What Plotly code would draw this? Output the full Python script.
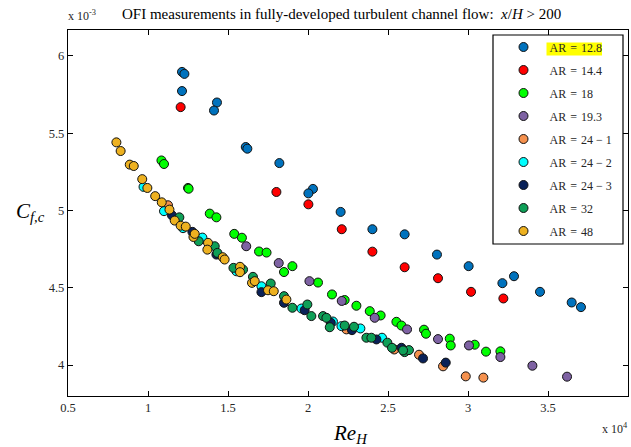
import plotly.graph_objects as go

# Re_H in units of 1e4, C_f,c in units of 1e-3
ar128_x = [1.2125, 1.2275, 1.2125, 1.431, 1.4125, 1.611, 1.621, 1.821, 2.031, 2.0025, 2.204, 2.4025,
           2.604, 2.806, 3.004, 3.215, 3.2875, 3.45, 3.648, 3.706]
ar128_y = [5.897, 5.884, 5.773, 5.699, 5.647, 5.411, 5.400, 5.307, 5.140, 5.111, 4.991, 4.879,
           4.846, 4.715, 4.640, 4.530, 4.575, 4.474, 4.405, 4.375]

ar144_x = [1.204, 1.8025, 2.0025, 2.211, 2.4025, 2.604, 2.8125, 3.019, 3.221]
ar144_y = [5.669, 5.120, 5.040, 4.879, 4.734, 4.633, 4.562, 4.474, 4.431]

ar18_x = [1.084, 1.100, 1.250, 1.254, 1.386, 1.4275, 1.539, 1.587, 1.694, 1.741, 1.850, 1.9025,
          2.0625, 2.150, 2.229, 2.3025, 2.386, 2.454, 2.5525, 2.584, 2.725, 2.7375, 2.886, 2.892,
          3.042, 3.1125, 3.2025]
ar18_y = [5.324, 5.301, 5.146, 5.141, 4.980, 4.956, 4.849, 4.824, 4.735, 4.728, 4.602, 4.640,
          4.534, 4.457, 4.421, 4.384, 4.349, 4.321, 4.280, 4.256, 4.229, 4.203, 4.171, 4.127,
          4.132, 4.087, 4.089]

ar193_x = [1.614, 1.817, 2.009, 2.211, 2.417, 2.619, 2.8125, 3.006, 3.2025, 3.4025, 3.619]
ar193_y = [4.769, 4.660, 4.543, 4.415, 4.306, 4.231, 4.168, 4.127, 4.052, 3.996, 3.925]

ar24a_x = [1.125, 2.240, 2.539, 2.694, 2.844, 2.986, 3.096]
ar24a_y = [5.034, 4.231, 4.101, 4.067, 3.992, 3.927, 3.919]

ar24b_x = [0.972, 1.100, 1.219, 1.340, 1.5525, 1.709, 1.959, 2.156, 2.209, 2.3275, 2.4625]
ar24b_y = [5.153, 4.996, 4.886, 4.825, 4.607, 4.510, 4.366, 4.282, 4.252, 4.237, 4.177]

ar24c_x = [1.150, 1.2775, 1.4275, 1.709, 1.850, 1.979, 2.142, 2.275, 2.4275, 2.584, 2.719, 2.861]
ar24c_y = [4.969, 4.862, 4.715, 4.472, 4.403, 4.355, 4.274, 4.226, 4.166, 4.112, 4.043, 4.016]

ar32_x = [1.196, 1.317, 1.417, 1.434, 1.534, 1.594, 1.656, 1.767, 1.850, 1.9025, 1.996, 2.021,
          2.094, 2.115, 2.136, 2.229, 2.2875, 2.365, 2.396, 2.496, 2.525, 2.604, 2.631, 2.594]
ar32_y = [4.956, 4.801, 4.769, 4.726, 4.629, 4.618, 4.571, 4.528, 4.446, 4.371, 4.392, 4.317,
          4.317, 4.306, 4.245, 4.256, 4.248, 4.177, 4.177, 4.145, 4.112, 4.084, 4.097, 4.095]

ar48_x = [0.8025, 0.829, 0.886, 0.911, 0.964, 0.996, 1.045, 1.086, 1.134, 1.167, 1.204, 1.236,
          1.284, 1.292, 1.375, 1.371, 1.467, 1.479, 1.575, 1.575, 1.650, 1.667, 1.750, 1.786, 1.865]
ar48_y = [5.441, 5.385, 5.297, 5.288, 5.203, 5.146, 5.093, 5.053, 5.006, 4.935, 4.902, 4.896,
          4.829, 4.849, 4.791, 4.747, 4.698, 4.683, 4.636, 4.601, 4.532, 4.543, 4.484, 4.478, 4.424]

EQ = "\u2004=\u2004"
series_names = ["AR" + EQ + "12.8", "AR" + EQ + "14.4", "AR" + EQ + "18", "AR" + EQ + "19.3",
                "AR" + EQ + "24 \u2212 1", "AR" + EQ + "24 \u2212 2", "AR" + EQ + "24 \u2212 3",
                "AR" + EQ + "32", "AR" + EQ + "48"]
series_x = [ar128_x, ar144_x, ar18_x, ar193_x, ar24a_x, ar24b_x, ar24c_x, ar32_x, ar48_x]
series_y = [ar128_y, ar144_y, ar18_y, ar193_y, ar24a_y, ar24b_y, ar24c_y, ar32_y, ar48_y]
colors = ["#0072BD", "#FF0000", "#00FF00", "#7E62A3", "#F5914E", "#00FFFF", "#0A2158",
          "#0E9F57", "#EDB120"]

x_ticks = [0.5, 1, 1.5, 2, 2.5, 3, 3.5, 4]
x_ticktext = ["0.5", "1", "1.5", "2", "2.5", "3", "3.5", "4"]
y_ticks = [4, 4.5, 5, 5.5, 6]
y_ticktext = ["4", "4.5", "5", "5.5", "6"]

FONT = "Liberation Serif"
W, H = 631, 447
L, R, T, B = 68, 3, 30, 51
PW, PH = W - L - R, H - T - B


def px(xp):
    return (xp - L) / PW


def py(yp):
    return (H - B - yp) / PH


fig = go.Figure()
for i, (nm, xs, ys, c) in enumerate(zip(series_names, series_x, series_y, colors)):
    fig.add_trace(go.Scatter(
        x=xs, y=ys, mode="markers", name=nm, legendgroup=str(i),
        marker=dict(size=9, color=c, line=dict(color="#111111", width=1)),
    ))

axis_common = dict(showgrid=False, zeroline=False, showline=True, linecolor="black", linewidth=1.3,
                   mirror="ticks", ticks="inside", ticklen=5, tickcolor="black", tickwidth=1,
                   tickfont=dict(family=FONT, size=12.5, color="#262626"))

fig.update_layout(
    width=W, height=H,
    margin=dict(l=L, r=R, t=T, b=B),
    plot_bgcolor="white", paper_bgcolor="white",
    xaxis=dict(range=[0.5, 4], tickvals=x_ticks, ticktext=x_ticktext, **axis_common),
    yaxis=dict(range=[3.8, 6.168], tickvals=y_ticks, ticktext=y_ticktext, **axis_common),
    showlegend=True,
    legend=dict(x=px(497.5), y=py(32.5), xanchor="left", yanchor="top",
                bgcolor="rgba(0,0,0,0)", borderwidth=0,
                font=dict(family=FONT, size=12, color="#262626"),
                traceorder="grouped", tracegroupgap=4, itemwidth=42),
    shapes=[
        dict(type="rect", xref="paper", yref="paper", x0=px(493), x1=px(623), y0=py(244), y1=py(35),
             fillcolor="white", line=dict(color="black", width=1.2), layer="above"),
        dict(type="rect", xref="paper", yref="paper", x0=px(546.5), x1=px(602), y0=py(55.5), y1=py(42.5),
             fillcolor="#FFFF00", line=dict(width=0), layer="above"),
    ],
    annotations=[
        dict(text="x 10<sup>-3</sup>", xref="paper", yref="paper", x=px(66), y=py(15),
             xanchor="left", yanchor="middle", showarrow=False,
             font=dict(family=FONT, size=12, color="#262626")),
        dict(text="OFI measurements in fully-developed turbulent channel flow:  <i>x</i>/<i>H</i> > 200",
             xref="paper", yref="paper", x=px(341), y=py(14), xanchor="center", yanchor="middle",
             showarrow=False, font=dict(family=FONT, size=15, color="black")),
        dict(text="<i>C</i><sub><i>f,c</i></sub>", xref="paper", yref="paper", x=px(30), y=py(212),
             xanchor="center", yanchor="middle", showarrow=False,
             font=dict(family=FONT, size=21, color="black")),
        dict(text="<i>Re</i><sub><i>H</i></sub>", xref="paper", yref="paper", x=px(350), y=py(434),
             xanchor="center", yanchor="middle", showarrow=False,
             font=dict(family=FONT, size=21, color="black")),
        dict(text="x 10<sup>4</sup>", xref="paper", yref="paper", x=px(630), y=py(428),
             xanchor="right", yanchor="middle", showarrow=False,
             font=dict(family=FONT, size=12, color="#262626")),
    ],
)

fig.write_html("out.html", config={"displayModeBar": False},
               post_script="document.body.style.margin='0px';")
